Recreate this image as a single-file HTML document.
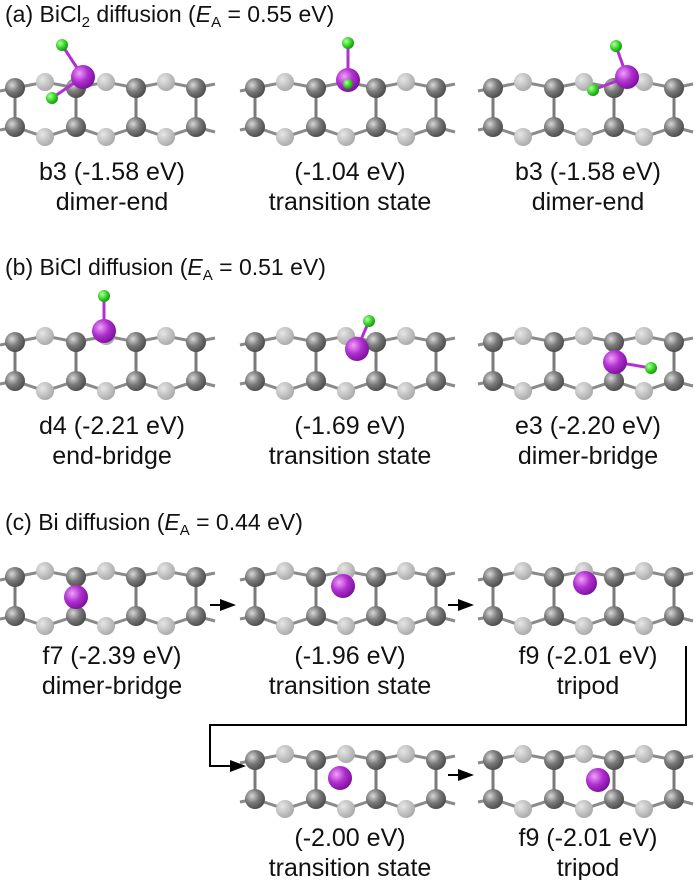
<!DOCTYPE html>
<html><head><style>
html,body{margin:0;padding:0;background:#fff;}
svg{display:block;}
text{font-family:"Liberation Sans",Arial,sans-serif;fill:#111;}
</style></head><body>
<svg width="700" height="880" viewBox="0 0 700 880" xmlns="http://www.w3.org/2000/svg">
<defs>
<radialGradient id="gd" cx="0.35" cy="0.35" r="0.7"><stop offset="0" stop-color="#d8d8d8"/><stop offset="0.5" stop-color="#7a7a7a"/><stop offset="1" stop-color="#4a4a4a"/></radialGradient>
<radialGradient id="gl" cx="0.35" cy="0.35" r="0.7"><stop offset="0" stop-color="#e6e6e6"/><stop offset="1" stop-color="#a8a8a8"/></radialGradient>
<radialGradient id="gm" cx="0.35" cy="0.35" r="0.7"><stop offset="0" stop-color="#f0a0f8"/><stop offset="0.5" stop-color="#b030d0"/><stop offset="1" stop-color="#7a109a"/></radialGradient>
<radialGradient id="gg" cx="0.35" cy="0.35" r="0.7"><stop offset="0" stop-color="#b0ffa0"/><stop offset="0.6" stop-color="#30d020"/><stop offset="1" stop-color="#1a9010"/></radialGradient>
<g id="slab">
<polyline points="0,25 15,22 45,16 76,22 106,16 136,22 166,16 196,22 215,18" fill="none" stroke="#8a8a8a" stroke-width="3"/>
<polyline points="0,64 15,61 45,71 76,61 106,71 136,61 166,71 196,61 215,66" fill="none" stroke="#8a8a8a" stroke-width="3"/>
<g stroke="#7a7a7a" stroke-width="3"><line x1="15" y1="22" x2="15" y2="61"/><line x1="76" y1="22" x2="76" y2="61"/><line x1="136" y1="22" x2="136" y2="61"/><line x1="196" y1="22" x2="196" y2="61"/></g>
<g fill="url(#gl)"><circle cx="45" cy="16" r="9"/><circle cx="106" cy="16" r="9"/><circle cx="166" cy="16" r="9"/><circle cx="45" cy="71" r="9"/><circle cx="106" cy="71" r="9"/><circle cx="166" cy="71" r="9"/></g>
<g fill="url(#gd)"><circle cx="15" cy="22" r="10"/><circle cx="76" cy="22" r="10"/><circle cx="136" cy="22" r="10"/><circle cx="196" cy="22" r="10"/><circle cx="15" cy="61" r="10"/><circle cx="76" cy="61" r="10"/><circle cx="136" cy="61" r="10"/><circle cx="196" cy="61" r="10"/></g>
</g>
</defs>

<!-- (a) -->
<text x="5" y="22" font-size="23">(a) BiCl<tspan font-size="15" dy="5">2</tspan><tspan dy="-5"> diffusion (</tspan><tspan font-style="italic">E</tspan><tspan font-size="15" dy="5">A</tspan><tspan dy="-5"> = 0.55 eV)</tspan></text>
<use href="#slab" x="0" y="66"/><use href="#slab" x="240" y="66"/><use href="#slab" x="478" y="66"/>
<g stroke-width="3"><line x1="62" y1="45" x2="83" y2="77" stroke="#b030d0"/><line x1="52" y1="98" x2="83" y2="77" stroke="#b030d0"/></g>
<circle cx="83" cy="77" r="12" fill="url(#gm)"/><circle cx="62" cy="45" r="6" fill="url(#gg)"/><circle cx="52" cy="98" r="6" fill="url(#gg)"/>
<line x1="348" y1="43" x2="348" y2="80" stroke="#b030d0" stroke-width="3"/>
<circle cx="348" cy="80" r="12" fill="url(#gm)"/><circle cx="348" cy="43" r="6" fill="url(#gg)"/><circle cx="348" cy="84" r="5" fill="url(#gg)"/>
<g stroke="#b030d0" stroke-width="3"><line x1="616" y1="46" x2="627" y2="77"/><line x1="593" y1="90" x2="627" y2="77"/></g>
<circle cx="627" cy="77" r="12" fill="url(#gm)"/><circle cx="616" cy="46" r="6" fill="url(#gg)"/><circle cx="593" cy="90" r="6" fill="url(#gg)"/>
<g font-size="25" text-anchor="middle">
<text x="112" y="180">b3 (-1.58 eV)</text><text x="112" y="210">dimer-end</text>
<text x="350" y="180">(-1.04 eV)</text><text x="350" y="210">transition state</text>
<text x="588" y="180">b3 (-1.58 eV)</text><text x="588" y="210">dimer-end</text>
</g>

<!-- (b) -->
<text x="5" y="275" font-size="23">(b) BiCl diffusion (<tspan font-style="italic">E</tspan><tspan font-size="15" dy="5">A</tspan><tspan dy="-5"> = 0.51 eV)</tspan></text>
<use href="#slab" x="0" y="320"/><use href="#slab" x="240" y="320"/><use href="#slab" x="478" y="320"/>
<line x1="104" y1="296" x2="104" y2="331" stroke="#b030d0" stroke-width="3"/>
<circle cx="104" cy="331" r="12" fill="url(#gm)"/><circle cx="104" cy="296" r="6" fill="url(#gg)"/>
<line x1="357" y1="349" x2="369" y2="321" stroke="#b030d0" stroke-width="3"/>
<circle cx="357" cy="349" r="12" fill="url(#gm)"/><circle cx="369" cy="321" r="6" fill="url(#gg)"/>
<line x1="615" y1="362" x2="651" y2="368" stroke="#b030d0" stroke-width="3"/>
<circle cx="615" cy="362" r="12" fill="url(#gm)"/><circle cx="651" cy="368" r="6" fill="url(#gg)"/>
<g font-size="25" text-anchor="middle">
<text x="112" y="434">d4 (-2.21 eV)</text><text x="112" y="464">end-bridge</text>
<text x="350" y="434">(-1.69 eV)</text><text x="350" y="464">transition state</text>
<text x="588" y="434">e3 (-2.20 eV)</text><text x="588" y="464">dimer-bridge</text>
</g>

<!-- (c) -->
<text x="5" y="530" font-size="23">(c) Bi diffusion (<tspan font-style="italic">E</tspan><tspan font-size="15" dy="5">A</tspan><tspan dy="-5"> = 0.44 eV)</tspan></text>
<use href="#slab" x="0" y="555"/><use href="#slab" x="240" y="555"/><use href="#slab" x="478" y="555"/>
<circle cx="76" cy="597" r="12" fill="url(#gm)"/>
<circle cx="343" cy="586" r="12" fill="url(#gm)"/>
<circle cx="585" cy="583" r="12" fill="url(#gm)"/>
<g font-size="25" text-anchor="middle">
<text x="112" y="664">f7 (-2.39 eV)</text><text x="112" y="694">dimer-bridge</text>
<text x="350" y="664">(-1.96 eV)</text><text x="350" y="694">transition state</text>
<text x="588" y="664">f9 (-2.01 eV)</text><text x="588" y="694">tripod</text>
</g>
<use href="#slab" x="240" y="738"/><use href="#slab" x="478" y="738"/>
<circle cx="340" cy="778" r="12" fill="url(#gm)"/>
<circle cx="598" cy="780" r="12" fill="url(#gm)"/>
<g font-size="25" text-anchor="middle">
<text x="350" y="846">(-2.00 eV)</text><text x="350" y="876">transition state</text>
<text x="588" y="846">f9 (-2.01 eV)</text><text x="588" y="876">tripod</text>
</g>
<!-- arrows -->
<g stroke="#000" stroke-width="2" fill="none">
<line x1="210" y1="605" x2="222" y2="605"/><line x1="448" y1="605" x2="460" y2="605"/>
<polyline points="686,646 686,725 210,725 210,766 232,766"/>
<line x1="448" y1="775" x2="460" y2="775"/>
</g>
<g fill="#000">
<polygon points="220,599 236,605 220,611"/><polygon points="458,599 474,605 458,611"/>
<polygon points="230,760 246,766 230,772"/><polygon points="458,769 474,775 458,781"/>
</g>
</svg>
</body></html>
